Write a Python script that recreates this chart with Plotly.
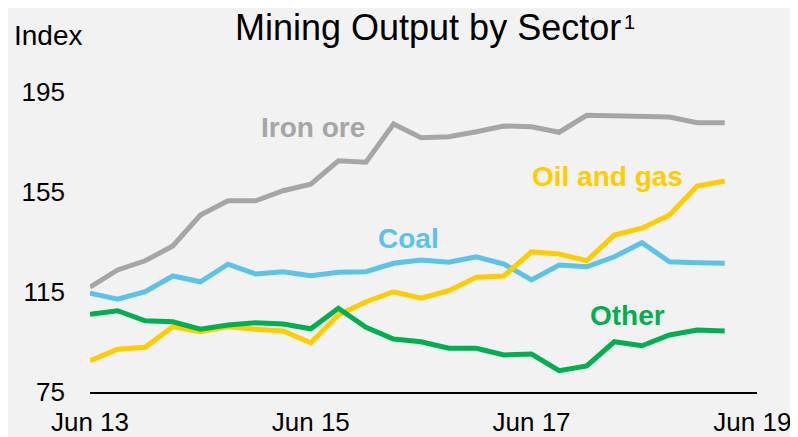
import plotly.graph_objects as go

quarters = ["Jun 13", "Sep 13", "Dec 13", "Mar 14", "Jun 14", "Sep 14", "Dec 14", "Mar 15",
            "Jun 15", "Sep 15", "Dec 15", "Mar 16", "Jun 16", "Sep 16", "Dec 16", "Mar 17",
            "Jun 17", "Sep 17", "Dec 17", "Mar 18", "Jun 18", "Sep 18", "Dec 18", "Mar 19"]

iron_ore = [116.9, 123.8, 127.5, 133.4, 145.8, 151.5, 151.5, 155.5, 158.1, 167.5, 166.9, 182.2,
            176.7, 177.1, 179.1, 181.4, 181.1, 178.9, 185.7, 185.6, 185.1, 185.0, 182.7, 182.7]
coal = [114.5, 112.1, 115.1, 121.4, 119.1, 126.1, 122.2, 123.1, 121.5, 122.9, 123.1, 126.5,
        127.8, 126.9, 129.1, 126.2, 119.8, 125.8, 125.1, 129.1, 134.7, 127.1, 126.7, 126.5]
oil_gas = [87.5, 92.1, 92.9, 101.1, 99.1, 101.1, 100.1, 99.4, 94.7, 105.8, 111.1, 115.1,
           112.5, 115.5, 120.9, 121.4, 131.1, 130.2, 127.5, 137.8, 140.5, 145.8, 157.4, 159.4]
other = [106.1, 107.5, 103.5, 103.1, 100.1, 101.8, 102.7, 102.2, 100.3, 108.5, 100.9, 96.2,
         95.1, 92.5, 92.5, 89.8, 90.2, 83.5, 85.4, 95.1, 93.5, 97.8, 99.8, 99.4]

tick_labels = ["Jun 13", "Jun 15", "Jun 17", "Jun 19"]
y_ticks = [75, 115, 155, 195]

series = [
    ("Iron ore", iron_ore, "#A6A6A6"),
    ("Coal", coal, "#5BC2EA"),
    ("Oil and gas", oil_gas, "#FFCC00"),
    ("Other", other, "#00B050"),
]

FONT = "Liberation Sans, Arial, sans-serif"
x_idx = list(range(len(quarters)))

fig = go.Figure()
for name, vals, col in series:
    fig.add_trace(go.Scatter(x=x_idx, y=vals, mode="lines", name=name,
                             line=dict(color=col, width=5), hoverinfo="skip",
                             showlegend=False, cliponaxis=False))

# tick label positions: every 8 quarters (Jun 13, Jun 15, Jun 17, Jun 19)
tick_pos = [i * 8 for i in range(len(tick_labels))]

# page body has an 8px default margin, so the figure is 8px smaller
fig.update_layout(
    width=790, height=429,
    margin=dict(l=82, r=41, t=84, b=45, autoexpand=False),
    paper_bgcolor="#F2F2F2", plot_bgcolor="#F2F2F2",
    font=dict(family=FONT, color="black", size=26),
    xaxis=dict(range=[0, 24.17], tickvals=tick_pos, ticktext=tick_labels, automargin=False,
               showgrid=False, zeroline=False, showline=True, linecolor="black",
               linewidth=2, ticks="", tickfont=dict(size=26), ticklabelstandoff=6),
    yaxis=dict(range=[75, 195], tickvals=y_ticks, showgrid=False, zeroline=False, automargin=False,
               showline=False, ticks="", tickfont=dict(size=26), ticklabelstandoff=24),
)

labels = [
    ("Iron ore", "#A6A6A6", 313, 127),
    ("Coal", "#5BC2EA", 408, 238),
    ("Oil and gas", "#FFCC00", 607, 176),
    ("Other", "#00B050", 627, 315),
]
for text, col, px, py in labels:
    fig.add_annotation(text=f"<b>{text}</b>", xref="paper", yref="paper",
                       x=(px - 90) / 667, y=(392 - py) / 300, xanchor="center", yanchor="middle",
                       showarrow=False, font=dict(size=28, color=col, family=FONT))

fig.add_annotation(text="Mining Output by Sector", xref="paper", yref="paper",
                   x=(428 - 90) / 667, y=(392 - 27) / 300, xanchor="center", yanchor="middle",
                   showarrow=False, font=dict(size=36, color="black", family=FONT))
fig.add_annotation(text="1", xref="paper", yref="paper",
                   x=(622 - 90) / 667, y=(392 - 22) / 300, xanchor="left", yanchor="middle",
                   showarrow=False, font=dict(size=20, color="black", family=FONT))
fig.add_annotation(text="Index", xref="paper", yref="paper",
                   x=(12 - 90) / 667, y=(392 - 36) / 300, xanchor="left", yanchor="middle",
                   showarrow=False, font=dict(size=28, color="black", family=FONT))

fig.write_html("out.html")
